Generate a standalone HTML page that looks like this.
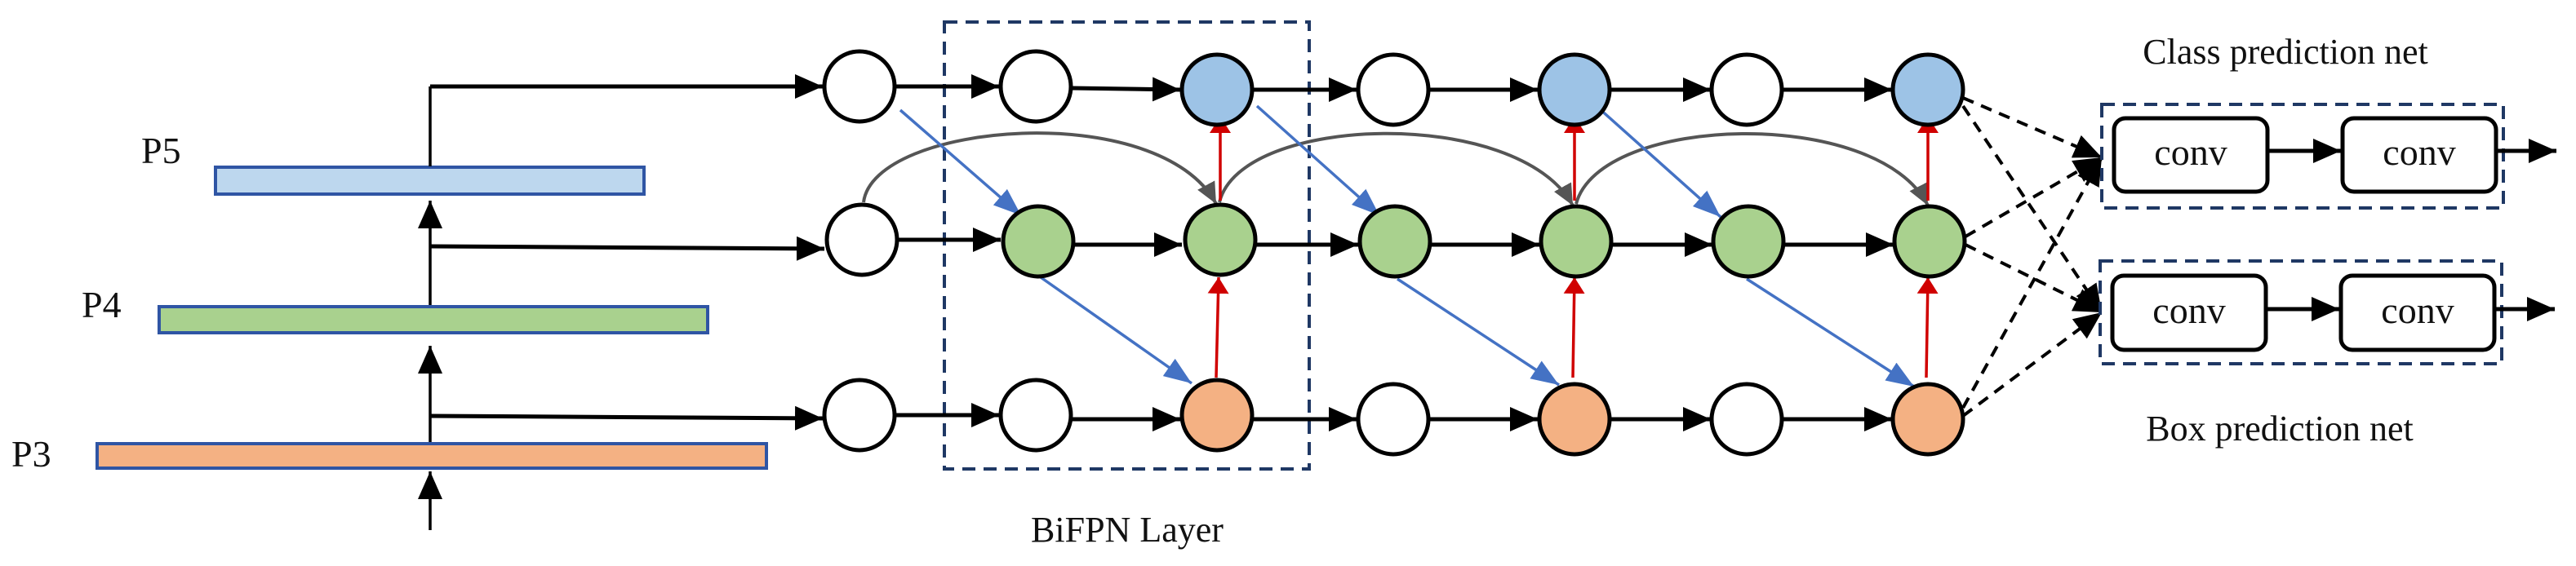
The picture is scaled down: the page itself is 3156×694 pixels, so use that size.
<!DOCTYPE html>
<html><head><meta charset="utf-8"><style>
html,body{margin:0;padding:0;background:#fff;}
svg{display:block;}
svg text{font-family:"Liberation Serif","DejaVu Serif",serif !important;fill:#111;}
</style></head><body>
<svg width="3156" height="694" viewBox="0 0 3156 694" xmlns="http://www.w3.org/2000/svg" font-family="Liberation Serif, serif">
<defs>
<marker id="ar" viewBox="0 0 10 10" refX="10" refY="5" markerWidth="20" markerHeight="26" orient="auto" markerUnits="userSpaceOnUse" preserveAspectRatio="none"><path d="M0,0 L10,5 L0,10 z" fill="#d00000"/></marker>
<marker id="abl" viewBox="0 0 10 10" refX="10" refY="5" markerWidth="34" markerHeight="26" orient="auto" markerUnits="userSpaceOnUse" preserveAspectRatio="none"><path d="M0,0 L10,5 L0,10 z" fill="#4472c4"/></marker>
<marker id="ag" viewBox="0 0 10 10" refX="10" refY="5" markerWidth="26" markerHeight="24" orient="auto" markerUnits="userSpaceOnUse" preserveAspectRatio="none"><path d="M0,0 L10,5 L0,10 z" fill="#555"/></marker>
<marker id="ak" viewBox="0 0 10 10" refX="10" refY="5" markerWidth="34" markerHeight="30" orient="auto" markerUnits="userSpaceOnUse" preserveAspectRatio="none"><path d="M0,0 L10,5 L0,10 z" fill="#000"/></marker>
</defs>

<rect x="264" y="205" width="525" height="33" fill="#bdd7ee" stroke="#2f55a4" stroke-width="4"/>
<rect x="195" y="376" width="672" height="32" fill="#a9d18e" stroke="#2f55a4" stroke-width="4"/>
<rect x="119" y="544" width="820" height="30" fill="#f4b183" stroke="#2f55a4" stroke-width="4"/>
<text font-family="Liberation Serif, serif" x="173" y="200" font-size="46">P5</text>
<text font-family="Liberation Serif, serif" x="100" y="389" font-size="46">P4</text>
<text font-family="Liberation Serif, serif" x="14" y="572" font-size="46">P3</text>

<g stroke="#000" stroke-width="3.5" fill="none">
<line x1="527" y1="650" x2="527" y2="578" marker-end="url(#ak)"/>
<line x1="527" y1="542" x2="527" y2="424" marker-end="url(#ak)"/>
<line x1="527" y1="374" x2="527" y2="246" marker-end="url(#ak)"/>
<line x1="527" y1="204" x2="527" y2="106"/>
<polyline points="527,106 1008,106" stroke-width="5" marker-end="url(#ak)"/>
<polyline points="527,302 1010,305" stroke-width="5" marker-end="url(#ak)"/>
<polyline points="527,510 1008,513" stroke-width="5" marker-end="url(#ak)"/>
</g>

<rect x="1157" y="27" width="447" height="548" fill="none" stroke="#1f3864" stroke-width="4" stroke-dasharray="16,10"/>
<text font-family="Liberation Serif, serif" x="1381" y="664" font-size="44" text-anchor="middle">BiFPN Layer</text>

<g stroke="#000" stroke-width="5" fill="none">
<line x1="1097" y1="106" x2="1224" y2="106" marker-end="url(#ak)"/>
<line x1="1313" y1="108" x2="1446" y2="110" marker-end="url(#ak)"/>
<line x1="1535" y1="110" x2="1662" y2="110" marker-end="url(#ak)"/>
<line x1="1751" y1="110" x2="1884" y2="110" marker-end="url(#ak)"/>
<line x1="1973" y1="110" x2="2096" y2="110" marker-end="url(#ak)"/>
<line x1="2184" y1="110" x2="2318" y2="110" marker-end="url(#ak)"/>

<line x1="1100" y1="294" x2="1226" y2="294" marker-end="url(#ak)"/>
<line x1="1315" y1="300" x2="1448" y2="300" marker-end="url(#ak)"/>
<line x1="1537" y1="300" x2="1664" y2="300" marker-end="url(#ak)"/>
<line x1="1753" y1="300" x2="1886" y2="300" marker-end="url(#ak)"/>
<line x1="1975" y1="300" x2="2098" y2="300" marker-end="url(#ak)"/>
<line x1="2186" y1="300" x2="2320" y2="300" marker-end="url(#ak)"/>

<line x1="1097" y1="509" x2="1224" y2="509" marker-end="url(#ak)"/>
<line x1="1313" y1="514" x2="1446" y2="514" marker-end="url(#ak)"/>
<line x1="1535" y1="514" x2="1662" y2="514" marker-end="url(#ak)"/>
<line x1="1751" y1="514" x2="1884" y2="514" marker-end="url(#ak)"/>
<line x1="1973" y1="514" x2="2096" y2="514" marker-end="url(#ak)"/>
<line x1="2184" y1="514" x2="2318" y2="514" marker-end="url(#ak)"/>
</g>

<g stroke="#555" stroke-width="4" fill="none">
<path d="M1058,248 C1070,150 1420,120 1490,250" marker-end="url(#ag)"/>
<path d="M1494,248 C1520,140 1860,130 1927,252" marker-end="url(#ag)"/>
<path d="M1931,250 C1960,140 2300,130 2362,252" marker-end="url(#ag)"/>
</g>

<g stroke="#4472c4" stroke-width="3.5" fill="none">
<line x1="1103" y1="135" x2="1251" y2="264" marker-end="url(#abl)"/>
<line x1="1275" y1="340" x2="1460" y2="470" marker-end="url(#abl)"/>
<line x1="1540" y1="130" x2="1690" y2="264" marker-end="url(#abl)"/>
<line x1="1712" y1="342" x2="1910" y2="472" marker-end="url(#abl)"/>
<line x1="1958" y1="132" x2="2108" y2="266" marker-end="url(#abl)"/>
<line x1="2140" y1="342" x2="2345" y2="474" marker-end="url(#abl)"/>
</g>

<g stroke="#d00000" stroke-width="3.5" fill="none">
<line x1="1490" y1="463" x2="1493" y2="340" marker-end="url(#ar)"/>
<line x1="1495" y1="246" x2="1495" y2="143" marker-end="url(#ar)"/>
<line x1="1927" y1="463" x2="1929" y2="340" marker-end="url(#ar)"/>
<line x1="1929" y1="246" x2="1929" y2="143" marker-end="url(#ar)"/>
<line x1="2360" y1="463" x2="2362" y2="340" marker-end="url(#ar)"/>
<line x1="2362" y1="246" x2="2362" y2="143" marker-end="url(#ar)"/>
</g>

<g stroke="#000" stroke-width="5">
<circle cx="1053" cy="106" r="43" fill="#fff"/>
<circle cx="1269" cy="106" r="43" fill="#fff"/>
<circle cx="1491" cy="110" r="43" fill="#9dc3e6"/>
<circle cx="1707" cy="110" r="43" fill="#fff"/>
<circle cx="1929" cy="110" r="43" fill="#9dc3e6"/>
<circle cx="2140" cy="110" r="43" fill="#fff"/>
<circle cx="2362" cy="110" r="43" fill="#9dc3e6"/>

<circle cx="1056" cy="294" r="43" fill="#fff"/>
<circle cx="1272" cy="296" r="43" fill="#a9d18e"/>
<circle cx="1495" cy="294" r="43" fill="#a9d18e"/>
<circle cx="1709" cy="296" r="43" fill="#a9d18e"/>
<circle cx="1931" cy="296" r="43" fill="#a9d18e"/>
<circle cx="2142" cy="296" r="43" fill="#a9d18e"/>
<circle cx="2364" cy="296" r="43" fill="#a9d18e"/>

<circle cx="1053" cy="509" r="43" fill="#fff"/>
<circle cx="1269" cy="509" r="43" fill="#fff"/>
<circle cx="1491" cy="509" r="43" fill="#f4b183"/>
<circle cx="1707" cy="514" r="43" fill="#fff"/>
<circle cx="1929" cy="514" r="43" fill="#f4b183"/>
<circle cx="2140" cy="514" r="43" fill="#fff"/>
<circle cx="2362" cy="514" r="43" fill="#f4b183"/>
</g>

<g stroke="#000" stroke-width="4" stroke-dasharray="14,10" fill="none">
<line x1="2405" y1="120" x2="2575" y2="193" marker-end="url(#ak)"/>
<line x1="2405" y1="130" x2="2575" y2="383" marker-end="url(#ak)"/>
<line x1="2408" y1="290" x2="2575" y2="193" marker-end="url(#ak)"/>
<line x1="2408" y1="300" x2="2575" y2="383" marker-end="url(#ak)"/>
<line x1="2405" y1="500" x2="2575" y2="193" marker-end="url(#ak)"/>
<line x1="2405" y1="510" x2="2575" y2="383" marker-end="url(#ak)"/>
</g>

<text font-family="Liberation Serif, serif" x="2800" y="78" font-size="44" text-anchor="middle">Class prediction net</text>
<text font-family="Liberation Serif, serif" x="2793" y="540" font-size="44" text-anchor="middle">Box prediction net</text>
<g fill="none" stroke="#1f3864" stroke-width="4" stroke-dasharray="16,10">
<rect x="2575" y="128" width="492" height="127"/>
<rect x="2573" y="320" width="492" height="126"/>
</g>
<g stroke="#000" stroke-width="5" fill="#fff">
<rect x="2590" y="145" width="188" height="90" rx="14"/>
<rect x="2870" y="145" width="188" height="90" rx="14"/>
<rect x="2588" y="338" width="188" height="91" rx="14"/>
<rect x="2868" y="338" width="188" height="91" rx="14"/>
</g>
<g stroke="#000" stroke-width="5" fill="none">
<line x1="2778" y1="185" x2="2868" y2="185" marker-end="url(#ak)"/>
<line x1="3058" y1="185" x2="3132" y2="185" marker-end="url(#ak)"/>
<line x1="2776" y1="379" x2="2866" y2="379" marker-end="url(#ak)"/>
<line x1="3056" y1="379" x2="3130" y2="379" marker-end="url(#ak)"/>
</g>
<g font-size="46" text-anchor="middle" font-family="Liberation Serif, serif">
<text x="2684" y="202">conv</text>
<text x="2964" y="202">conv</text>
<text x="2682" y="396">conv</text>
<text x="2962" y="396">conv</text>
</g>
</svg>
</body></html>
